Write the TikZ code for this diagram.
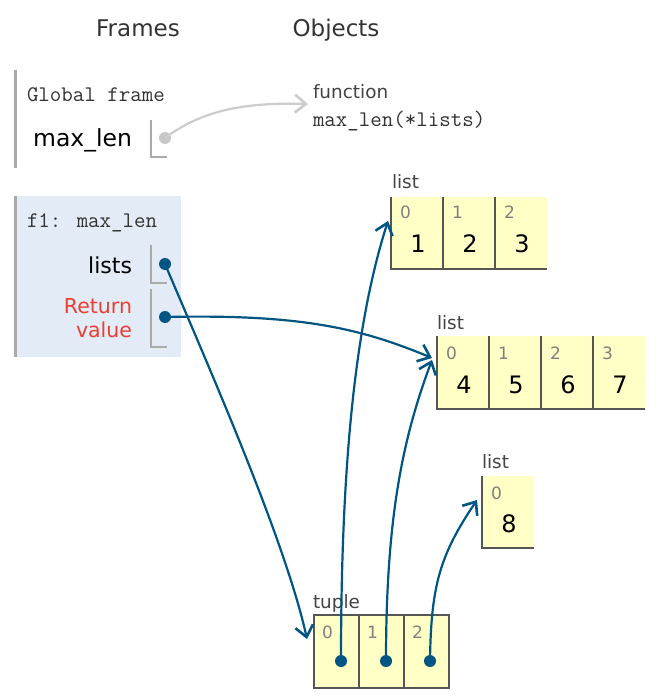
\documentclass[tikz,border=0pt]{standalone}
\usepackage{fontspec}
\setmainfont{DejaVu Sans}
\usetikzlibrary{arrows.meta}
\definecolor{linkc}{HTML}{005583}
\definecolor{framebg}{HTML}{E2EBF6}
\definecolor{cellbg}{HTML}{FFFFC6}
\definecolor{bordc}{HTML}{555555}
\definecolor{barc}{HTML}{AAAAAA}
\definecolor{retc}{HTML}{E93F34}
\definecolor{headc}{HTML}{333333}
\definecolor{tagc}{HTML}{444444}
\definecolor{idxc}{HTML}{808080}
\begin{document}
\begin{tikzpicture}[x=1pt,y=-1pt,
  txt/.style={inner sep=0pt,outer sep=0pt},
  head/.style={txt,font=\fontsize{23}{26}\selectfont,text=headc},
  lbl/.style={txt,font=\fontsize{22}{26}\selectfont,text=black},
  retl/.style={txt,font=\fontsize{20.5}{24}\selectfont,text=retc},
  mono/.style={txt,font=\ttfamily\fontsize{22.3}{25}\selectfont,text=headc},
  tag/.style={txt,font=\fontsize{18.4}{20}\selectfont,text=tagc},
  idx/.style={txt,font=\fontsize{17}{19}\selectfont,text=idxc},
  val/.style={txt,font=\fontsize{24}{28}\selectfont,text=black},
  cellA/.style={rectangle,fill=cellbg,draw=none,minimum width=52pt,minimum height=72pt,inner sep=0pt,outer sep=0pt},
  cellT/.style={rectangle,fill=cellbg,draw=none,minimum width=45pt,minimum height=73pt,inner sep=0pt,outer sep=0pt},
  bord/.style={draw=bordc,line width=2pt},
  bar/.style={draw=barc,line width=3pt},
  brk/.style={draw=barc,line width=2pt},
  dot/.style={circle,fill=linkc,inner sep=0pt,minimum size=12pt},
  gdot/.style={circle,fill=black!22,inner sep=0pt,minimum size=12pt},
  link/.style={draw=linkc,line width=2.2pt,-{Straight Barb[length=11pt,width=18pt,line width=2.6pt]}},
  glink/.style={draw=black!20,line width=2.2pt,-{Straight Barb[length=11pt,width=18pt,line width=2.6pt]}}
]
\useasboundingbox (0,0) rectangle (657,700);
\fill[white] (0,0) rectangle (657,700);

% headers
\node[head,anchor=base] (hframes) at (138,37) {Frames};
\node[head,anchor=base] (hobjects) at (336,37) {Objects};

% global frame
\draw[bar] (15,70) -- (15,168);
\node[mono,anchor=base west] (gtitle) at (27,102) {Global frame};
\node[lbl,font=\fontsize{23.5}{26}\selectfont,anchor=base east] (gvar) at (132,147) {max\_len};
\draw[brk] (151,120) -- (151,157) -- (167,157);
\node[gdot] (gd) at (165,138) {};

% function object
\node[tag,anchor=base west] (ftag) at (313,99) {function};
\node[mono,anchor=base west] (fname) at (313,127) {max\_len(*lists)};
\coordinate (ftip) at (308,104);
\draw[glink] (gd.center) .. controls (200,112) and (240,102) .. (ftip);

% f1 frame
\fill[framebg] (15,196) rectangle (181,357);
\draw[bar] (15,196) -- (15,357);
\node[mono,anchor=base west] (f1title) at (27,228) {f1: max\_len};
\node[lbl,anchor=base east] (vlists) at (132,273) {lists};
\draw[brk] (151,245) -- (151,283) -- (167,283);
\node[retl,anchor=base east] (vret1) at (132,313) {Return};
\node[retl,anchor=base east] (vret2) at (132,337) {value};
\draw[brk] (151,289) -- (151,347) -- (167,347);
\node[dot] (dl) at (165,264) {};
\node[dot] (dr) at (165,317) {};

% list 1
\node[tag,anchor=base west] (l1tag) at (392,189) {list};
\node[cellA] (l1c0) at (417,233) {};
\node[cellA] (l1c1) at (469,233) {};
\node[cellA] (l1c2) at (521,233) {};
\draw[bord] (l1c0.north west) -- (l1c0.south west) -- (l1c2.south east);
\draw[bord] (l1c1.north west) -- (l1c1.south west);
\draw[bord] (l1c2.north west) -- (l1c2.south west);
\foreach \c/\i/\v in {0/0/1,1/1/2,2/2/3}{
  \node[idx,anchor=base west] (l1i\c) at ([xshift=9pt]l1c\c.west |- 0,219) {\i};
  \node[val,anchor=base] (l1v\c) at ([xshift=1pt]l1c\c.center |- 0,253) {\v};
}

% list 2
\node[tag,anchor=base west] (l2tag) at (437,329) {list};
\node[cellA,minimum height=73pt] (l2c0) at (463,372.5) {};
\node[cellA,minimum height=73pt] (l2c1) at (515,372.5) {};
\node[cellA,minimum height=73pt] (l2c2) at (567,372.5) {};
\node[cellA,minimum height=73pt] (l2c3) at (619,372.5) {};
\draw[bord] (l2c0.north west) -- (l2c0.south west) -- (l2c3.south east);
\foreach \c in {1,2,3}{\draw[bord] (l2c\c.north west) -- (l2c\c.south west);}
\foreach \c/\v in {0/4,1/5,2/6,3/7}{
  \node[idx,anchor=base west] (l2i\c) at ([xshift=9pt]l2c\c.west |- 0,359) {\c};
  \node[val,anchor=base] (l2v\c) at ([xshift=1pt]l2c\c.center |- 0,393) {\v};
}

% list 3
\node[tag,anchor=base west] (l3tag) at (482,468) {list};
\node[cellA] (l3c0) at (508,512) {};
\draw[bord] (l3c0.north west) -- (l3c0.south west) -- (l3c0.south east);
\node[idx,anchor=base west] (l3i0) at ([xshift=9pt]l3c0.west |- 0,499) {0};
\node[val,anchor=base] (l3v0) at ([xshift=1pt]l3c0.center |- 0,532) {8};

% tuple
\node[tag,anchor=base west] (ttag) at (313,608) {tuple};
\node[cellT] (tc0) at (336.5,651.5) {};
\node[cellT] (tc1) at (381.5,651.5) {};
\node[cellT] (tc2) at (426.5,651.5) {};
\draw[bord] (tc0.north west) rectangle (tc2.south east);
\draw[bord] (tc1.north west) -- (tc1.south west);
\draw[bord] (tc2.north west) -- (tc2.south west);
\foreach \c in {0,1,2}{
  \node[idx,anchor=base west] (ti\c) at ([xshift=8pt]tc\c.west |- 0,638) {\c};
}
\node[dot] (td0) at (341,661) {};
\node[dot] (td1) at (386,661) {};
\node[dot] (td2) at (430,661) {};

% arrow targets
\coordinate (a1) at (307,639);
\coordinate (a2) at (432,358);
\coordinate (a3) at (388,221);
\coordinate (a4) at (432,360);
\coordinate (a5) at (477,500);

% links
\draw[link] (dl.center) .. controls (210,370) and (285,540) .. (a1);
\draw[link] (dr.center) .. controls (300,314) and (360,328) .. (a2);
\draw[link] (td0.center) .. controls (341,480) and (353,330) .. (a3);
\draw[link] (td1.center) .. controls (386,520) and (402,440) .. (a4);
\draw[link] (td2.center) .. controls (431,585) and (440,555) .. (a5);
\end{tikzpicture}
\end{document}
